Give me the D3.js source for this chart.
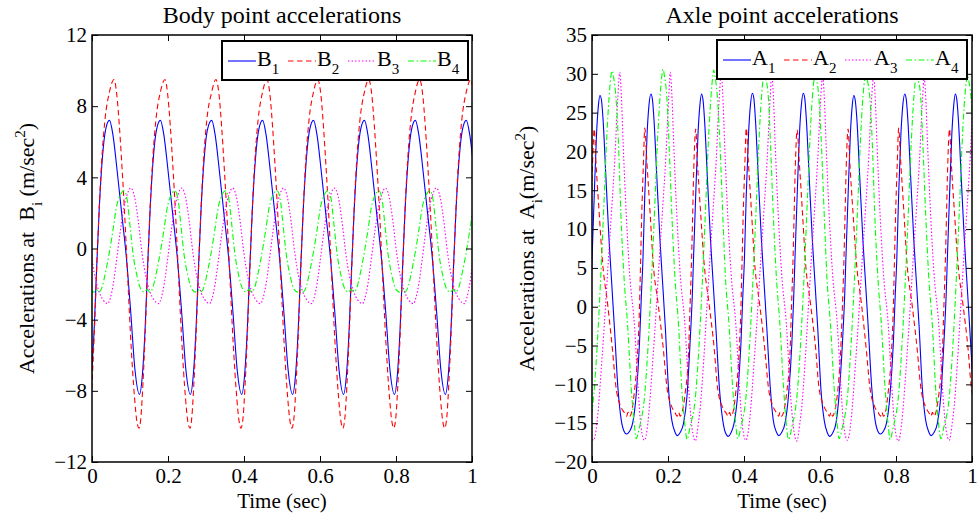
<!DOCTYPE html>
<html>
<head>
<meta charset="utf-8">
<script src="https://cdn.jsdelivr.net/npm/d3@7"></script>
<style>
  body { margin: 0; background: #fff; }
  svg { display: block; }
  svg text { font-family: "Liberation Serif", "Times New Roman", Times, serif; }
</style>
</head>
<body>
<svg id="fig" width="977" height="516"></svg>
<script>
// ---- tick values ----
const timeTicks = [0, 0.2, 0.4, 0.6, 0.8, 1];
const bodyTicks = [-12, -8, -4, 0, 4, 8, 12];
const axleTicks = [-20, -15, -10, -5, 0, 5, 10, 15, 20, 25, 30, 35];

// ---- body point accelerations [time (s), acceleration (m/s^2)] ----
const bodyB1 = [[-0.001,-7.0],[0.006,-4.4],[0.012,-1.2],[0.019,2.2],[0.027,5.0],[0.036,6.7],
  [0.046,7.2],[0.055,6.4],[0.066,4.4],[0.078,2.0],[0.090,-0.4],[0.102,-3.6],[0.113,-6.8],[0.125,-8.2],[0.133,-7.0],[0.140,-4.4],[0.146,-1.2],[0.153,2.2],[0.161,5.0],[0.170,6.7],
  [0.180,7.2],[0.189,6.4],[0.200,4.4],[0.212,2.0],[0.224,-0.4],[0.236,-3.6],[0.247,-6.8],[0.259,-8.2],[0.267,-7.0],[0.274,-4.4],[0.280,-1.2],[0.287,2.2],[0.295,5.0],[0.304,6.7],
  [0.315,7.2],[0.324,6.4],[0.335,4.4],[0.347,2.0],[0.359,-0.4],[0.371,-3.6],[0.382,-6.8],[0.394,-8.2],[0.402,-7.0],[0.409,-4.4],[0.415,-1.2],[0.422,2.2],[0.430,5.0],[0.439,6.7],
  [0.449,7.2],[0.458,6.4],[0.469,4.4],[0.481,2.0],[0.493,-0.4],[0.505,-3.6],[0.516,-6.8],[0.528,-8.2],[0.536,-7.0],[0.543,-4.4],[0.549,-1.2],[0.556,2.2],[0.564,5.0],[0.573,6.7],
  [0.583,7.2],[0.592,6.4],[0.603,4.4],[0.615,2.0],[0.627,-0.4],[0.639,-3.6],[0.650,-6.8],[0.662,-8.2],[0.670,-7.0],[0.677,-4.4],[0.683,-1.2],[0.690,2.2],[0.698,5.0],[0.707,6.7],
  [0.717,7.2],[0.726,6.4],[0.737,4.4],[0.749,2.0],[0.761,-0.4],[0.773,-3.6],[0.784,-6.8],[0.796,-8.2],[0.804,-7.0],[0.811,-4.4],[0.817,-1.2],[0.824,2.2],[0.832,5.0],[0.841,6.7],
  [0.851,7.2],[0.860,6.4],[0.871,4.4],[0.883,2.0],[0.895,-0.4],[0.907,-3.6],[0.918,-6.8],[0.930,-8.2],[0.938,-7.0],[0.945,-4.4],[0.951,-1.2],[0.958,2.2],[0.966,5.0],[0.975,6.7],
  [0.985,7.2],[0.994,6.4],[1.005,4.4]];

const bodyB2 = [[-0.005,-9.4],[0.000,-7.6],[0.006,-4.8],[0.012,-1.4],[0.019,2.3],[0.027,5.4],[0.034,7.2],
  [0.046,8.8],[0.058,9.5],[0.065,8.7],[0.072,6.9],[0.078,4.9],[0.085,2.3],[0.093,-1.2],[0.102,-5.1],[0.112,-8.4],[0.118,-9.7],[0.124,-10.1],[0.129,-9.4],[0.134,-7.6],[0.140,-4.8],[0.146,-1.4],[0.153,2.3],[0.161,5.4],[0.168,7.2],
  [0.180,8.8],[0.192,9.5],[0.199,8.7],[0.206,6.9],[0.212,4.9],[0.219,2.3],[0.227,-1.2],[0.236,-5.1],[0.246,-8.4],[0.252,-9.7],[0.258,-10.1],[0.263,-9.4],[0.268,-7.6],[0.274,-4.8],[0.280,-1.4],[0.287,2.3],[0.295,5.4],[0.302,7.2],
  [0.315,8.8],[0.326,9.5],[0.334,8.7],[0.341,6.9],[0.347,4.9],[0.354,2.3],[0.362,-1.2],[0.371,-5.1],[0.381,-8.4],[0.387,-9.7],[0.392,-10.1],[0.398,-9.4],[0.403,-7.6],[0.409,-4.8],[0.415,-1.4],[0.422,2.3],[0.430,5.4],[0.437,7.2],
  [0.449,8.8],[0.460,9.5],[0.468,8.7],[0.475,6.9],[0.481,4.9],[0.488,2.3],[0.496,-1.2],[0.505,-5.1],[0.515,-8.4],[0.521,-9.7],[0.526,-10.1],[0.532,-9.4],[0.537,-7.6],[0.543,-4.8],[0.549,-1.4],[0.556,2.3],[0.564,5.4],[0.571,7.2],
  [0.583,8.8],[0.594,9.5],[0.602,8.7],[0.609,6.9],[0.615,4.9],[0.622,2.3],[0.630,-1.2],[0.639,-5.1],[0.649,-8.4],[0.655,-9.7],[0.660,-10.1],[0.666,-9.4],[0.671,-7.6],[0.677,-4.8],[0.683,-1.4],[0.690,2.3],[0.698,5.4],[0.705,7.2],
  [0.717,8.8],[0.728,9.5],[0.736,8.7],[0.743,6.9],[0.749,4.9],[0.756,2.3],[0.764,-1.2],[0.773,-5.1],[0.783,-8.4],[0.789,-9.7],[0.794,-10.1],[0.800,-9.4],[0.805,-7.6],[0.811,-4.8],[0.817,-1.4],[0.824,2.3],[0.832,5.4],[0.839,7.2],
  [0.851,8.8],[0.862,9.5],[0.870,8.7],[0.877,6.9],[0.883,4.9],[0.890,2.3],[0.898,-1.2],[0.907,-5.1],[0.917,-8.4],[0.923,-9.7],[0.928,-10.1],[0.934,-9.4],[0.939,-7.6],[0.945,-4.8],[0.951,-1.4],[0.958,2.3],[0.966,5.4],[0.973,7.2],
  [0.985,8.8],[0.997,9.5],[1.004,8.7]];

const bodyB3 = [[-0.012,1.5],[-0.002,-0.3],[0.008,-1.6],[0.018,-2.4],[0.028,-2.85],[0.036,-3.05],[0.041,-3.1],
  [0.048,-2.8],[0.056,-2.0],[0.065,-0.6],[0.074,0.9],[0.083,2.2],[0.092,3.0],[0.102,3.4],[0.112,2.9],[0.122,1.5],[0.132,-0.3],[0.142,-1.6],[0.152,-2.4],[0.162,-2.85],[0.170,-3.05],[0.175,-3.1],
  [0.182,-2.8],[0.190,-2.0],[0.199,-0.6],[0.208,0.9],[0.217,2.2],[0.226,3.0],[0.236,3.4],[0.246,2.9],[0.256,1.5],[0.266,-0.3],[0.276,-1.6],[0.286,-2.4],[0.296,-2.85],[0.304,-3.05],[0.309,-3.1],
  [0.316,-2.8],[0.324,-2.0],[0.333,-0.6],[0.342,0.9],[0.351,2.2],[0.360,3.0],[0.370,3.4],[0.380,2.9],[0.390,1.5],[0.400,-0.3],[0.410,-1.6],[0.420,-2.4],[0.430,-2.85],[0.438,-3.05],[0.443,-3.1],
  [0.450,-2.8],[0.458,-2.0],[0.467,-0.6],[0.476,0.9],[0.485,2.2],[0.494,3.0],[0.504,3.4],[0.514,2.9],[0.524,1.5],[0.534,-0.3],[0.544,-1.6],[0.554,-2.4],[0.564,-2.85],[0.572,-3.05],[0.577,-3.1],
  [0.584,-2.8],[0.592,-2.0],[0.601,-0.6],[0.610,0.9],[0.619,2.2],[0.628,3.0],[0.638,3.4],[0.648,2.9],[0.658,1.5],[0.668,-0.3],[0.678,-1.6],[0.688,-2.4],[0.698,-2.85],[0.706,-3.05],[0.712,-3.1],
  [0.718,-2.8],[0.726,-2.0],[0.735,-0.6],[0.744,0.9],[0.753,2.2],[0.762,3.0],[0.772,3.4],[0.782,2.9],[0.792,1.5],[0.802,-0.3],[0.812,-1.6],[0.822,-2.4],[0.832,-2.85],[0.840,-3.05],[0.846,-3.1],
  [0.852,-2.8],[0.860,-2.0],[0.869,-0.6],[0.878,0.9],[0.887,2.2],[0.896,3.0],[0.906,3.4],[0.916,2.9],[0.926,1.5],[0.936,-0.3],[0.946,-1.6],[0.956,-2.4],[0.966,-2.85],[0.974,-3.05],[0.980,-3.1],
  [0.986,-2.8],[0.994,-2.0],[1.003,-0.6]];

const bodyB4 = [[-0.005,-2.3],[0.004,-2.45],[0.011,-2.3],[0.018,-2.45],[0.026,-2.2],[0.035,-1.4],[0.045,-0.3],
  [0.055,1.0],[0.064,2.3],[0.074,3.0],[0.084,3.25],[0.092,2.8],[0.100,1.3],[0.108,-0.3],[0.118,-1.5],[0.129,-2.3],[0.138,-2.45],[0.145,-2.3],[0.152,-2.45],[0.160,-2.2],[0.169,-1.4],[0.179,-0.3],
  [0.189,1.0],[0.198,2.3],[0.208,3.0],[0.218,3.25],[0.226,2.8],[0.234,1.3],[0.242,-0.3],[0.252,-1.5],[0.263,-2.3],[0.272,-2.45],[0.279,-2.3],[0.286,-2.45],[0.294,-2.2],[0.303,-1.4],[0.313,-0.3],
  [0.323,1.0],[0.332,2.3],[0.342,3.0],[0.352,3.25],[0.360,2.8],[0.368,1.3],[0.376,-0.3],[0.386,-1.5],[0.397,-2.3],[0.406,-2.45],[0.413,-2.3],[0.420,-2.45],[0.428,-2.2],[0.437,-1.4],[0.447,-0.3],
  [0.457,1.0],[0.466,2.3],[0.476,3.0],[0.487,3.25],[0.495,2.8],[0.503,1.3],[0.511,-0.3],[0.521,-1.5],[0.532,-2.3],[0.541,-2.45],[0.548,-2.3],[0.555,-2.45],[0.563,-2.2],[0.572,-1.4],[0.582,-0.3],
  [0.592,1.0],[0.601,2.3],[0.611,3.0],[0.621,3.25],[0.629,2.8],[0.637,1.3],[0.645,-0.3],[0.655,-1.5],[0.666,-2.3],[0.675,-2.45],[0.682,-2.3],[0.689,-2.45],[0.697,-2.2],[0.706,-1.4],[0.716,-0.3],
  [0.726,1.0],[0.735,2.3],[0.745,3.0],[0.755,3.25],[0.763,2.8],[0.771,1.3],[0.779,-0.3],[0.789,-1.5],[0.800,-2.3],[0.809,-2.45],[0.816,-2.3],[0.823,-2.45],[0.831,-2.2],[0.840,-1.4],[0.850,-0.3],
  [0.860,1.0],[0.869,2.3],[0.879,3.0],[0.889,3.25],[0.897,2.8],[0.905,1.3],[0.913,-0.3],[0.923,-1.5],[0.934,-2.3],[0.943,-2.45],[0.950,-2.3],[0.957,-2.45],[0.965,-2.2],[0.974,-1.4],[0.984,-0.3],
  [0.994,1.0],[1.003,2.3]];

// ---- axle point accelerations [time (s), acceleration (m/s^2)] ----
const axleA1 = [[-0.009,-4.7],[-0.004,1.5],[0.000,6.0],[0.006,14.5],[0.012,22.3],[0.017,26.0],
  [0.021,27.2],[0.025,26.6],[0.029,24.2],[0.037,16.3],[0.045,8.5],[0.050,4.5],[0.059,-2.7],[0.068,-10.3],[0.077,-14.6],[0.084,-16.0],[0.091,-16.4],[0.098,-16.1],[0.107,-15.0],[0.116,-11.5],[0.125,-4.7],[0.130,1.5],[0.134,6.0],[0.139,14.5],[0.145,22.3],[0.150,26.0],
  [0.155,27.4],[0.159,26.7],[0.163,24.2],[0.171,16.3],[0.179,8.5],[0.184,4.5],[0.193,-2.7],[0.201,-10.3],[0.210,-14.6],[0.218,-16.1],[0.225,-16.6],[0.232,-16.2],[0.241,-15.0],[0.250,-11.5],[0.258,-4.7],[0.264,1.5],[0.267,6.0],[0.273,14.5],[0.279,22.3],[0.284,26.0],
  [0.288,27.4],[0.292,26.7],[0.296,24.2],[0.304,16.3],[0.312,8.5],[0.317,4.5],[0.326,-2.7],[0.335,-10.3],[0.344,-14.6],[0.351,-16.2],[0.359,-16.7],[0.365,-16.3],[0.374,-15.0],[0.383,-11.5],[0.392,-4.7],[0.397,1.5],[0.401,6.0],[0.406,14.5],[0.412,22.3],[0.417,26.0],
  [0.422,27.5],[0.426,26.8],[0.430,24.2],[0.438,16.3],[0.446,8.5],[0.451,4.5],[0.460,-2.7],[0.469,-10.3],[0.477,-14.6],[0.485,-16.1],[0.492,-16.6],[0.499,-16.2],[0.508,-15.0],[0.517,-11.5],[0.526,-4.7],[0.531,1.5],[0.534,6.0],[0.540,14.5],[0.546,22.3],[0.551,26.0],
  [0.556,27.5],[0.560,26.8],[0.564,24.2],[0.572,16.3],[0.580,8.5],[0.585,4.5],[0.594,-2.7],[0.602,-10.3],[0.611,-14.6],[0.619,-16.2],[0.626,-16.7],[0.633,-16.3],[0.642,-15.0],[0.650,-11.5],[0.659,-4.7],[0.665,1.5],[0.668,6.0],[0.674,14.5],[0.680,22.3],[0.685,26.0],
  [0.689,27.2],[0.693,26.5],[0.697,24.2],[0.705,16.3],[0.713,8.5],[0.718,4.5],[0.727,-2.7],[0.736,-10.3],[0.745,-14.6],[0.752,-16.0],[0.759,-16.4],[0.766,-16.1],[0.775,-15.0],[0.784,-11.5],[0.793,-4.7],[0.798,1.5],[0.802,6.0],[0.807,14.5],[0.813,22.3],[0.818,26.0],
  [0.823,27.4],[0.827,26.7],[0.831,24.2],[0.839,16.3],[0.847,8.5],[0.852,4.5],[0.861,-2.7],[0.869,-10.3],[0.878,-14.6],[0.886,-16.1],[0.893,-16.6],[0.900,-16.2],[0.909,-15.0],[0.918,-11.5],[0.926,-4.7],[0.932,1.5],[0.935,6.0],[0.941,14.5],[0.947,22.3],[0.952,26.0],
  [0.956,27.4],[0.960,26.7],[0.964,24.2],[0.972,16.3],[0.980,8.5],[0.985,4.5],[0.994,-2.7],[1.003,-10.3]];

const axleA2 = [[-0.009,0.0],[-0.006,6.0],[-0.003,12.0],[0.001,18.0],
  [0.006,22.9],[0.010,19.0],[0.019,12.0],[0.028,5.6],[0.041,0.4],[0.054,-5.6],[0.063,-10.3],[0.076,-12.9],[0.086,-13.7],[0.091,-14.1],[0.095,-13.6],[0.099,-14.1],[0.105,-13.4],[0.111,-11.2],[0.120,-6.0],[0.125,0.0],[0.128,6.0],[0.131,12.0],[0.135,18.0],
  [0.139,23.0],[0.144,19.0],[0.153,12.0],[0.161,5.6],[0.174,0.4],[0.188,-5.6],[0.197,-10.3],[0.210,-12.9],[0.219,-13.7],[0.224,-14.1],[0.228,-13.6],[0.232,-14.1],[0.238,-13.4],[0.245,-11.2],[0.254,-6.0],[0.258,0.0],[0.262,6.0],[0.265,12.0],[0.268,18.0],
  [0.273,22.9],[0.277,19.0],[0.286,12.0],[0.295,5.6],[0.308,0.4],[0.322,-5.6],[0.330,-10.3],[0.343,-12.9],[0.353,-13.7],[0.358,-14.1],[0.362,-13.6],[0.366,-14.1],[0.372,-13.4],[0.378,-11.2],[0.387,-6.0],[0.392,0.0],[0.395,6.0],[0.398,12.0],[0.402,18.0],
  [0.406,23.0],[0.411,19.0],[0.420,12.0],[0.428,5.6],[0.441,0.4],[0.455,-5.6],[0.464,-10.3],[0.477,-12.9],[0.486,-13.7],[0.491,-14.1],[0.495,-13.6],[0.499,-14.1],[0.505,-13.4],[0.512,-11.2],[0.521,-6.0],[0.525,0.0],[0.529,6.0],[0.532,12.0],[0.535,18.0],
  [0.540,22.8],[0.545,19.0],[0.554,12.0],[0.562,5.6],[0.575,0.4],[0.589,-5.6],[0.597,-10.3],[0.611,-12.9],[0.620,-13.7],[0.625,-14.1],[0.629,-13.6],[0.633,-14.1],[0.639,-13.4],[0.646,-11.2],[0.654,-6.0],[0.659,0.0],[0.663,6.0],[0.666,12.0],[0.669,18.0],
  [0.674,22.9],[0.678,19.0],[0.687,12.0],[0.696,5.6],[0.709,0.4],[0.722,-5.6],[0.731,-10.3],[0.744,-12.9],[0.754,-13.7],[0.759,-14.1],[0.763,-13.6],[0.767,-14.1],[0.773,-13.4],[0.779,-11.2],[0.788,-6.0],[0.793,0.0],[0.796,6.0],[0.799,12.0],[0.803,18.0],
  [0.807,23.0],[0.812,19.0],[0.821,12.0],[0.829,5.6],[0.842,0.4],[0.856,-5.6],[0.865,-10.3],[0.878,-12.9],[0.887,-13.7],[0.892,-14.1],[0.896,-13.6],[0.900,-14.1],[0.906,-13.4],[0.913,-11.2],[0.922,-6.0],[0.926,0.0],[0.930,6.0],[0.933,12.0],[0.936,18.0],
  [0.941,22.9],[0.945,19.0],[0.954,12.0],[0.963,5.6],[0.976,0.4],[0.990,-5.6],[0.998,-10.3],[1.011,-12.9]];

const axleA3 = [[-0.013,-10.3],[-0.005,-15.5],[0.004,-17.2],[0.013,-15.0],[0.017,-12.9],[0.026,-6.9],[0.035,-0.4],[0.043,6.0],[0.051,12.0],[0.060,19.0],[0.068,27.0],
  [0.073,30.2],[0.077,27.5],[0.082,21.0],[0.090,12.0],[0.099,4.3],[0.112,-2.6],[0.121,-10.3],[0.129,-15.5],[0.138,-17.2],[0.147,-15.0],[0.151,-12.9],[0.160,-6.9],[0.169,-0.4],[0.177,6.0],[0.185,12.0],[0.194,19.0],[0.202,27.0],
  [0.206,30.2],[0.210,27.5],[0.215,21.0],[0.223,12.0],[0.232,4.3],[0.245,-2.6],[0.254,-10.3],[0.263,-15.5],[0.272,-17.3],[0.280,-15.0],[0.285,-12.9],[0.294,-6.9],[0.302,-0.4],[0.310,6.0],[0.318,12.0],[0.327,19.0],[0.335,27.0],
  [0.340,29.9],[0.344,27.5],[0.349,21.0],[0.357,12.0],[0.366,4.3],[0.379,-2.6],[0.388,-10.3],[0.396,-15.5],[0.405,-17.2],[0.414,-15.0],[0.418,-12.9],[0.427,-6.9],[0.436,-0.4],[0.444,6.0],[0.452,12.0],[0.461,19.0],[0.469,27.0],
  [0.473,29.8],[0.477,27.5],[0.482,21.0],[0.490,12.0],[0.499,4.3],[0.512,-2.6],[0.521,-10.3],[0.530,-15.5],[0.539,-17.3],[0.547,-15.0],[0.552,-12.9],[0.561,-6.9],[0.569,-0.4],[0.577,6.0],[0.585,12.0],[0.594,19.0],[0.602,27.0],
  [0.607,29.7],[0.611,27.3],[0.616,21.0],[0.624,12.0],[0.633,4.3],[0.646,-2.6],[0.655,-10.3],[0.663,-15.5],[0.672,-17.2],[0.681,-15.0],[0.685,-12.9],[0.694,-6.9],[0.703,-0.4],[0.711,6.0],[0.719,12.0],[0.728,19.0],[0.736,27.0],
  [0.741,29.6],[0.745,27.2],[0.750,21.0],[0.758,12.0],[0.767,4.3],[0.780,-2.6],[0.789,-10.3],[0.797,-15.5],[0.806,-17.3],[0.815,-15.0],[0.819,-12.9],[0.828,-6.9],[0.837,-0.4],[0.845,6.0],[0.853,12.0],[0.862,19.0],[0.870,27.0],
  [0.874,29.5],[0.878,27.2],[0.883,21.0],[0.891,12.0],[0.900,4.3],[0.913,-2.6],[0.922,-10.3],[0.931,-15.5],[0.940,-17.2],[0.948,-15.0],[0.953,-12.9],[0.962,-6.9],[0.970,-0.4],[0.978,6.0],[0.986,12.0],[0.995,19.0],[1.003,27.0]];

const axleA4 = [[-0.009,-15.5],[0.005,-11.2],[0.014,-4.7],[0.025,6.0],[0.032,14.0],[0.038,21.0],[0.045,27.0],[0.050,29.8],
  [0.053,30.4],[0.057,29.5],[0.063,27.0],[0.070,20.6],[0.076,12.0],[0.084,4.0],[0.094,-2.6],[0.103,-10.3],[0.112,-15.5],[0.116,-17.0],[0.125,-15.5],[0.139,-11.2],[0.148,-4.7],[0.159,6.0],[0.166,14.0],[0.172,21.0],[0.179,27.0],[0.184,29.8],
  [0.187,30.6],[0.191,29.6],[0.197,27.0],[0.203,20.6],[0.210,12.0],[0.218,4.0],[0.228,-2.6],[0.236,-10.3],[0.245,-15.5],[0.250,-17.1],[0.258,-15.5],[0.273,-11.2],[0.282,-4.7],[0.293,6.0],[0.300,14.0],[0.306,21.0],[0.313,27.0],[0.318,29.8],
  [0.320,30.5],[0.324,29.6],[0.330,27.0],[0.337,20.6],[0.344,12.0],[0.351,4.0],[0.361,-2.6],[0.370,-10.3],[0.379,-15.5],[0.383,-17.0],[0.392,-15.5],[0.406,-11.2],[0.415,-4.7],[0.426,6.0],[0.433,14.0],[0.439,21.0],[0.446,27.0],[0.451,29.6],
  [0.454,30.1],[0.458,29.3],[0.464,27.0],[0.470,20.6],[0.477,12.0],[0.485,4.0],[0.495,-2.6],[0.504,-10.3],[0.512,-15.5],[0.517,-17.1],[0.526,-15.5],[0.540,-11.2],[0.549,-4.7],[0.560,6.0],[0.567,14.0],[0.573,21.0],[0.580,27.0],[0.585,29.5],
  [0.587,30.0],[0.591,29.2],[0.597,27.0],[0.604,20.6],[0.611,12.0],[0.618,4.0],[0.628,-2.6],[0.637,-10.3],[0.646,-15.5],[0.650,-17.0],[0.659,-15.5],[0.673,-11.2],[0.682,-4.7],[0.693,6.0],[0.700,14.0],[0.706,21.0],[0.713,27.0],[0.718,29.4],
  [0.721,29.9],[0.725,29.1],[0.731,27.0],[0.738,20.6],[0.744,12.0],[0.752,4.0],[0.762,-2.6],[0.771,-10.3],[0.780,-15.5],[0.784,-17.1],[0.793,-15.5],[0.807,-11.2],[0.816,-4.7],[0.827,6.0],[0.834,14.0],[0.840,21.0],[0.847,27.0],[0.852,29.4],
  [0.855,29.9],[0.859,29.1],[0.865,27.0],[0.871,20.6],[0.878,12.0],[0.886,4.0],[0.896,-2.6],[0.904,-10.3],[0.913,-15.5],[0.918,-17.0],[0.926,-15.5],[0.941,-11.2],[0.950,-4.7],[0.961,6.0],[0.968,14.0],[0.974,21.0],[0.981,27.0],[0.986,29.3],
  [0.988,29.8],[0.992,29.0],[0.998,26.6],[1.005,20.3]];

// ---- series styling (MATLAB-like line specs '-', '--', ':', '-.') ----
const seriesColors = ["#0000ff", "#ff0000", "#ff00ff", "#00ff00"];
const seriesDashes = [null, "5.5,3.5", "1.5,2", "6,2.5,1.5,2.5"];
const seriesSubs = ["1", "2", "3", "4"];

const svg = d3.select("#fig");
const TOP = 35, H = 427, W = 380;
const fmt = d3.format("~g");

function drawPanel(o) {
  const g = svg.append("g").attr("transform", `translate(${o.left},${TOP})`);
  const x = d3.scaleLinear().domain([0, 1]).range([0, W]);
  const y = d3.scaleLinear().domain(o.domain).range([H, 0]);

  svg.append("clipPath").attr("id", o.id + "-clip")
    .append("rect").attr("x", 0).attr("y", 0).attr("width", W).attr("height", H);

  // curves
  const line = d3.line().x(d => x(d[0])).y(d => y(d[1])).curve(d3.curveMonotoneX);
  const plot = g.append("g").attr("clip-path", `url(#${o.id}-clip)`);
  o.series.forEach((s, i) => {
    plot.append("path")
      .attr("d", line(s))
      .attr("fill", "none")
      .attr("stroke", seriesColors[i])
      .attr("stroke-width", 1.1)
      .attr("stroke-dasharray", seriesDashes[i]);
  });

  // axes with inward ticks on all four sides
  const styleAxis = a => {
    a.select(".domain").remove();
    a.attr("font-size", 21);
    a.selectAll(".tick line").attr("stroke-width", 1);
  };
  g.append("g").attr("transform", `translate(0,${H})`)
    .call(d3.axisBottom(x).tickValues(timeTicks).tickFormat(fmt).tickSizeInner(-6).tickSizeOuter(0).tickPadding(6.5))
    .call(styleAxis);
  g.append("g")
    .call(d3.axisTop(x).tickValues(timeTicks).tickFormat("").tickSizeInner(-6).tickSizeOuter(0))
    .call(styleAxis);
  g.append("g")
    .call(d3.axisLeft(y).tickValues(o.ticks).tickFormat(fmt).tickSizeInner(-6).tickSizeOuter(0).tickPadding(5))
    .call(styleAxis);
  g.append("g").attr("transform", `translate(${W},0)`)
    .call(d3.axisRight(y).tickValues(o.ticks).tickFormat("").tickSizeInner(-6).tickSizeOuter(0))
    .call(styleAxis);

  g.append("rect").attr("width", W).attr("height", H)
    .attr("fill", "none").attr("stroke", "#000").attr("stroke-width", 1.5);

  // title and axis labels
  svg.append("text").attr("x", o.left + W / 2).attr("y", 23)
    .attr("text-anchor", "middle").attr("font-size", 24)
    .text(o.title);
  svg.append("text").attr("x", o.left + W / 2).attr("y", 507.5)
    .attr("text-anchor", "middle").attr("font-size", 21)
    .text("Time (sec)");

  const yl = svg.append("text")
    .attr("transform", `translate(${o.ylabelX},${TOP + H / 2}) rotate(-90)`)
    .attr("text-anchor", "middle").attr("font-size", 22);
  yl.append("tspan").text("Accelerations at\u00a0 " + o.letter);
  yl.append("tspan").attr("dy", 8).attr("font-size", 15).text("i");
  yl.append("tspan").attr("dy", -8).text(o.gap + "(m/sec");
  yl.append("tspan").attr("dy", -9).attr("font-size", 15).text("2");
  yl.append("tspan").attr("dy", 9).text(")");

  // legend
  const lg = svg.append("g").attr("transform", `translate(${o.legend.x},${o.legend.y})`);
  lg.append("rect").attr("width", o.legend.w).attr("height", 39)
    .attr("fill", "#fff").attr("stroke", "#000").attr("stroke-width", 2);
  seriesSubs.forEach((sub, i) => {
    const x0 = 6 + i * o.legend.step;
    lg.append("line").attr("x1", x0).attr("x2", x0 + 28).attr("y1", 20).attr("y2", 20)
      .attr("stroke", seriesColors[i]).attr("stroke-width", 1.1)
      .attr("stroke-dasharray", seriesDashes[i]);
    const t = lg.append("text").attr("x", x0 + 29).attr("y", 24.5).attr("font-size", 22);
    t.append("tspan").text(o.letter);
    t.append("tspan").attr("dy", 8).attr("font-size", 15).text(sub);
  });
}

drawPanel({
  id: "body", left: 92, domain: [-12, 12], ticks: bodyTicks,
  series: [bodyB1, bodyB2, bodyB3, bodyB4],
  title: "Body point accelerations", letter: "B", gap: " ", ylabelX: 34,
  legend: { x: 222, y: 41, w: 246, step: 60 }
});
drawPanel({
  id: "axle", left: 592, domain: [-20, 35], ticks: axleTicks,
  series: [axleA1, axleA2, axleA3, axleA4],
  title: "Axle point accelerations", letter: "A", gap: "", ylabelX: 534,
  legend: { x: 717, y: 40, w: 250, step: 61 }
});
</script>
</body>
</html>
